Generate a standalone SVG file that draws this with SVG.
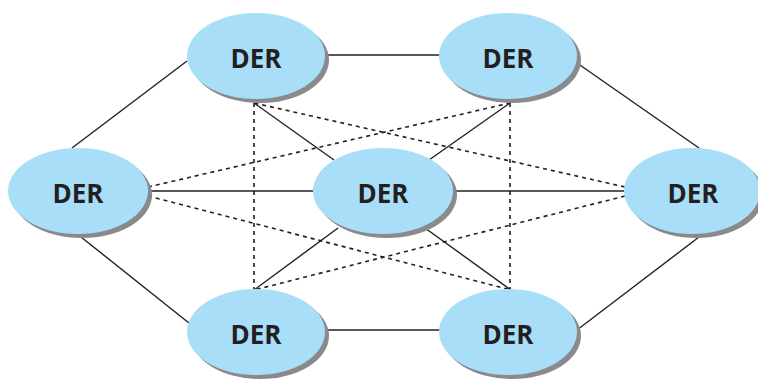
<svg xmlns="http://www.w3.org/2000/svg" width="758" height="379" viewBox="0 0 758 379">
<style>
.sh{fill:#8a8a8c}
.bd{fill:#a9def8}
.lb{font-family:"Open Sans","Liberation Sans",sans-serif;font-weight:bold;font-size:26px;fill:#231f20;text-anchor:middle}
.s{stroke:#231f20;stroke-width:1.4;fill:none}
.d{stroke:#231f20;stroke-width:1.6;fill:none;stroke-dasharray:4 4}
</style>
<rect width="758" height="379" fill="#fff"/>
<g id="connectors">
<line class="s" x1="325" y1="55" x2="440" y2="55"/>
<line class="s" x1="325" y1="330" x2="440" y2="330"/>
<line class="s" x1="187" y1="61" x2="72" y2="148"/>
<line class="s" x1="577" y1="63" x2="699" y2="148"/>
<line class="s" x1="81" y1="237" x2="189" y2="323"/>
<line class="s" x1="699" y1="237" x2="577" y2="330"/>
<line class="s" x1="148" y1="191" x2="313" y2="191"/>
<line class="s" x1="453" y1="191" x2="625" y2="191"/>
<line class="s" x1="254" y1="103" x2="334" y2="160"/>
<line class="s" x1="510" y1="103" x2="429" y2="160"/>
<line class="s" x1="254" y1="290" x2="338" y2="228"/>
<line class="s" x1="511" y1="290" x2="425" y2="228"/>
<line class="d" x1="254" y1="103" x2="254" y2="290"/>
<line class="d" x1="510" y1="103" x2="510" y2="290"/>
<line class="d" x1="148" y1="187" x2="510" y2="103"/>
<line class="d" x1="148" y1="196" x2="511" y2="290"/>
<line class="d" x1="625" y1="187" x2="254" y2="103"/>
<line class="d" x1="625" y1="196" x2="254" y2="290"/>
</g>
<g id="n-tl"><ellipse class="sh" cx="260" cy="60" rx="69" ry="43"/><ellipse class="bd" cx="256" cy="56" rx="69" ry="43"/><text class="lb" x="256" y="68">DER</text></g>
<g id="n-tr"><ellipse class="sh" cx="512" cy="60" rx="69" ry="43"/><ellipse class="bd" cx="508" cy="56" rx="69" ry="43"/><text class="lb" x="508" y="68">DER</text></g>
<g id="n-l"><ellipse class="sh" cx="82" cy="195" rx="70" ry="43"/><ellipse class="bd" cx="78" cy="191" rx="70" ry="43"/><text class="lb" x="78" y="203">DER</text></g>
<g id="n-c"><ellipse class="sh" cx="387" cy="195" rx="70" ry="43"/><ellipse class="bd" cx="383" cy="191" rx="70" ry="43"/><text class="lb" x="383" y="203">DER</text></g>
<g id="n-r"><ellipse class="sh" cx="696" cy="195" rx="68" ry="43"/><ellipse class="bd" cx="692" cy="191" rx="68" ry="43"/><text class="lb" x="693" y="203">DER</text></g>
<g id="n-bl"><ellipse class="sh" cx="260" cy="336" rx="69" ry="43"/><ellipse class="bd" cx="256" cy="332" rx="69" ry="43"/><text class="lb" x="256" y="344">DER</text></g>
<g id="n-br"><ellipse class="sh" cx="512" cy="336" rx="69" ry="43"/><ellipse class="bd" cx="508" cy="332" rx="69" ry="43"/><text class="lb" x="508" y="344">DER</text></g>
</svg>
